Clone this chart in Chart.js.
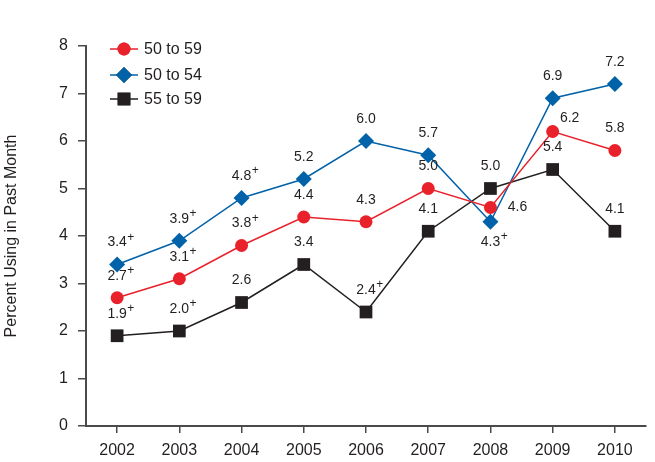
<!DOCTYPE html>
<html>
<head>
<meta charset="utf-8">
<script src="https://cdn.jsdelivr.net/npm/chart.js@4"></script>
<style>
  html, body { margin: 0; padding: 0; background: #fff; }
  #wrap { width: 655px; height: 462px; position: relative; }
</style>
</head>
<body>
<div id="wrap"><canvas id="c" width="655" height="462"></canvas></div>
<script>
const years = ['2002','2003','2004','2005','2006','2007','2008','2009','2010'];
const seriesNames = ['50 to 59', '50 to 54', '55 to 59'];
const age5059 = [2.7, 3.1, 3.8, 4.4, 4.3, 5.0, 4.6, 6.2, 5.8];
const age5054 = [3.4, 3.9, 4.8, 5.2, 6.0, 5.7, 4.3, 6.9, 7.2];
const age5559 = [1.9, 2.0, 2.6, 3.4, 2.4, 4.1, 5.0, 5.4, 4.1];
// "+" significance markers
const plus5059 = [1, 1, 1, 0, 0, 0, 0, 0, 0];
const plus5054 = [1, 1, 1, 0, 0, 0, 1, 0, 0];
const plus5559 = [1, 1, 0, 0, 1, 0, 0, 0, 0];
const yTicks = [0, 1, 2, 3, 4, 5, 6, 7, 8];
const yTitle = 'Percent Using in Past Month';

const RED = '#E9212B', BLUE = '#0062A8', BLACK = '#231F20', TXT = '#231F20', AXIS = '#4a4a4a';
const FONT = '"Liberation Sans", Arial, sans-serif';
const plusSets = [plus5059, plus5054, plus5559];

const labelPlugin = {
  id: 'labels',
  afterDatasetsDraw(chart) {
    const ctx = chart.ctx;
    // special placements: datasetIndex-pointIndex
    const special = { '0-6': [27, 0], '0-7': [17, -13], '1-6': [0, 20] };
    ctx.save();
    ctx.fillStyle = TXT;
    chart.data.datasets.forEach((ds, di) => {
      const meta = chart.getDatasetMeta(di);
      meta.data.forEach((pt, i) => {
        const off = special[di + '-' + i] || [0, -22];
        const x = pt.x + off[0], y = pt.y + off[1];
        const txt = ds.data[i].toFixed(1);
        ctx.font = '14px ' + FONT;
        ctx.textAlign = 'center';
        ctx.textBaseline = 'middle';
        ctx.fillText(txt, x, y);
        if (plusSets[di][i]) {
          const w = ctx.measureText(txt).width;
          ctx.font = '12px ' + FONT;
          ctx.textAlign = 'left';
          ctx.fillText('+', x + w / 2 + 0.5, y - 5);
        }
      });
    });
    ctx.restore();
  },
  afterDraw(chart) {
    const ctx = chart.ctx;
    ctx.save();
    // y title
    ctx.fillStyle = TXT;
    ctx.font = '16px ' + FONT;
    ctx.textAlign = 'center';
    ctx.textBaseline = 'middle';
    ctx.translate(12, (chart.chartArea.top + chart.chartArea.bottom) / 2);
    ctx.rotate(-Math.PI / 2);
    ctx.fillText(yTitle, 0, 0);
    ctx.restore();
    // legend
    ctx.save();
    const rows = [49, 75, 99];
    chart.data.datasets.forEach((ds, di) => {
      const y = rows[di];
      ctx.strokeStyle = ds.borderColor;
      ctx.lineWidth = 1.5;
      ctx.beginPath();
      ctx.moveTo(110, y); ctx.lineTo(138, y); ctx.stroke();
      Chart.helpers.drawPoint(ctx, {
        pointStyle: ds.pointStyle, radius: ds.pointRadius, borderWidth: 0, rotation: 0
      }, 124, y);
      ctx.fillStyle = ds.borderColor;
      ctx.fill();
      ctx.fillStyle = TXT;
      ctx.font = '16px ' + FONT;
      ctx.textAlign = 'left';
      ctx.textBaseline = 'middle';
      ctx.fillText(ds.label, 144, y + 1);
    });
    ctx.restore();
  }
};

function mk(label, data, color, style, r) {
  return {
    label, data,
    borderColor: color, backgroundColor: color,
    pointBackgroundColor: color, pointBorderColor: color,
    borderWidth: 1.5, pointStyle: style, pointRadius: r, pointHoverRadius: r,
    pointBorderWidth: 0, tension: 0, clip: false
  };
}

new Chart(document.getElementById('c'), {
  type: 'line',
  data: {
    labels: years,
    datasets: [
      mk(seriesNames[0], age5059, RED, 'circle', 6.5),
      mk(seriesNames[1], age5054, BLUE, 'rectRot', 8),
      mk(seriesNames[2], age5559, BLACK, 'rect', 9)
    ]
  },
  options: {
    responsive: false,
    animation: false,
    devicePixelRatio: 1,
    layout: { padding: { top: 46, right: 0, left: 0, bottom: 0 } },
    plugins: { legend: { display: false }, tooltip: { enabled: false } },
    scales: {
      x: {
        type: 'category',
        offset: true,
        grid: { offset: false, drawOnChartArea: false, drawTicks: true, tickLength: 7, color: AXIS, lineWidth: 1.5 },
        border: { display: true, color: AXIS, width: 2 },
        ticks: { color: TXT, font: { family: FONT, size: 16 }, padding: 8, maxRotation: 0, autoSkip: false },
        afterFit(s) { s.height = 36; s.paddingLeft = 0; s.paddingRight = 0; }
      },
      y: {
        min: 0, max: 8,
        afterBuildTicks(s) { s.ticks = yTicks.map(v => ({ value: v })); },
        grid: { drawOnChartArea: false, drawTicks: true, tickLength: 8, color: AXIS, lineWidth: 1.5 },
        border: { display: true, color: AXIS, width: 2 },
        ticks: { color: TXT, font: { family: FONT, size: 16 }, padding: 10 },
        afterFit(s) { s.width = 86; s.paddingTop = 0; s.paddingBottom = 0; }
      }
    }
  },
  plugins: [labelPlugin]
});
</script>
</body>
</html>
